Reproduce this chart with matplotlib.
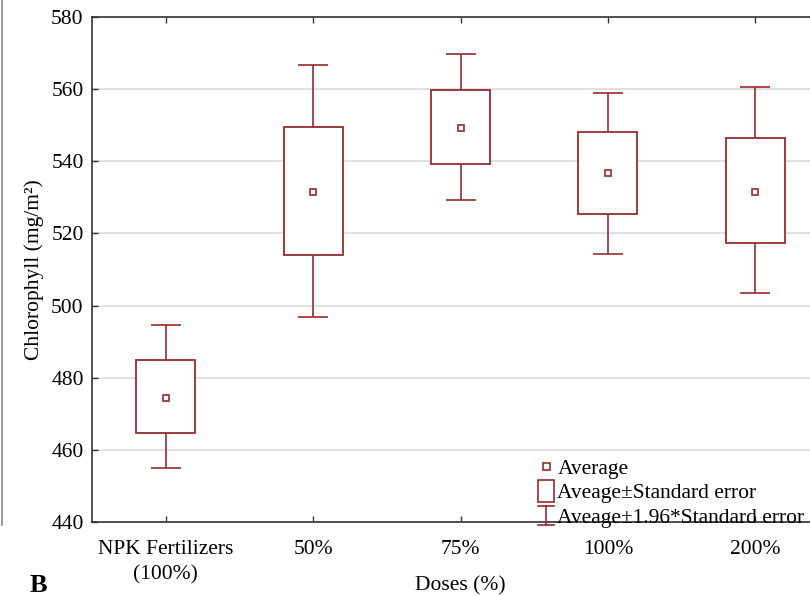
import matplotlib
matplotlib.use("Agg")
import matplotlib.pyplot as plt
from matplotlib.lines import Line2D
from matplotlib.patches import Rectangle
from matplotlib.legend_handler import HandlerBase

# ----- data ----- #
categories = ["NPK Fertilizers\n(100%)", "50%", "75%", "100%", "200%"]
means   = [474.5, 531.6, 549.3, 536.7, 531.6]
se_high = [484.9, 549.4, 559.8, 548.0, 546.5]
se_low  = [464.7, 514.1, 539.3, 525.4, 517.4]
ci_high = [494.5, 566.8, 569.8, 559.0, 560.6]
ci_low  = [455.1, 496.7, 529.2, 514.4, 503.5]
legend_labels = ["Average", "Aveage\u00b1Standard error",
                 "Aveage\u00b11.96*Standard error"]

red = "#9a2a2e"
plt.rcParams["font.family"] = ["Liberation Serif", "DejaVu Serif"]
plt.rcParams["font.size"] = 15.5


class LegendSymbol(HandlerBase):
    # draws the three statistica style symbols
    def __init__(self, kind):
        super().__init__()
        self.kind = kind

    def create_artists(self, legend, orig_handle, xdescent, ydescent,
                       width, height, fontsize, trans):
        cx = -xdescent + width / 2
        cy = -ydescent + height / 2
        if self.kind == "mean":
            return [Rectangle((cx - 2.5, cy - 2.5), 5, 5, fc="white",
                              ec=red, lw=1.2, transform=trans)]
        if self.kind == "box":
            return [Rectangle((cx - 6, cy - 8), 12, 16, fc="white",
                              ec=red, lw=1.2, transform=trans)]
        return [Line2D([cx, cx], [cy - 7, cy + 7], color=red, lw=1.2, transform=trans),
                Line2D([cx - 6, cx + 6], [cy + 7, cy + 7], color=red, lw=1.2, transform=trans),
                Line2D([cx - 6, cx + 6], [cy - 7, cy - 7], color=red, lw=1.2, transform=trans)]


fig = plt.figure(figsize=(8.1, 5.96), dpi=100)
ax = fig.add_axes([92 / 810, 1 - 522 / 596, (829 - 92) / 810, (522 - 17) / 596])

x = list(range(len(categories)))
yerr = [[m - lo for m, lo in zip(means, ci_low)],
        [hi - m for m, hi in zip(means, ci_high)]]
ax.errorbar(x, means, yerr=yerr, fmt="none", ecolor=red, elinewidth=1.2,
            capsize=10.5, capthick=1.2, zorder=2)
ax.bar(x, [h - l for h, l in zip(se_high, se_low)], bottom=se_low, width=0.4,
       facecolor="white", edgecolor=red, linewidth=1.3, zorder=3)
ax.plot(x, means, ls="none", marker="s", ms=5, mfc="white", mec=red,
        mew=1.2, zorder=4)

ax.set_xlim(-0.5, len(categories) - 0.5)
ax.set_ylim(440, 580)
ax.set_yticks(range(440, 581, 20))
ax.set_xticks(x)
ax.set_xticklabels(categories)
for lab in ax.get_xticklabels():
    lab.set_linespacing(1.4)
ax.yaxis.grid(True, color="#e0e0e0", lw=1.4)
ax.set_axisbelow(True)
ax.tick_params(direction="in", top=True, length=4, width=1, color="#333333")
ax.tick_params(axis="x", pad=13)
ax.tick_params(axis="y", pad=6)
for s in ax.spines.values():
    s.set_color("#333333")
    s.set_linewidth(1.2)

ax.set_ylabel("Chlorophyll (mg/m\u00b2)", labelpad=5)
ax.set_xlabel("Doses (%)", va="bottom")
ax.xaxis.set_label_coords(0.5, -(595 - 522) / 505)

handles = [Line2D([], []), Line2D([], []), Line2D([], [])]
fig.legend(handles, legend_labels, loc="upper left",
           bbox_to_anchor=(538 / 810, 1 - 459 / 596), frameon=False,
           handler_map={handles[0]: LegendSymbol("mean"),
                        handles[1]: LegendSymbol("box"),
                        handles[2]: LegendSymbol("bar")},
           handlelength=0.75, handletextpad=0.15, labelspacing=0.2,
           borderpad=0, borderaxespad=0)

fig.text(30 / 810, 1 - 592 / 596, "B", fontsize=19, fontweight="bold",
         va="baseline")
fig.add_artist(Line2D([1.5 / 810, 1.5 / 810], [1, 1 - 525 / 596],
                      color="#888888", lw=1.2))

fig.savefig("out.png", dpi=100)
